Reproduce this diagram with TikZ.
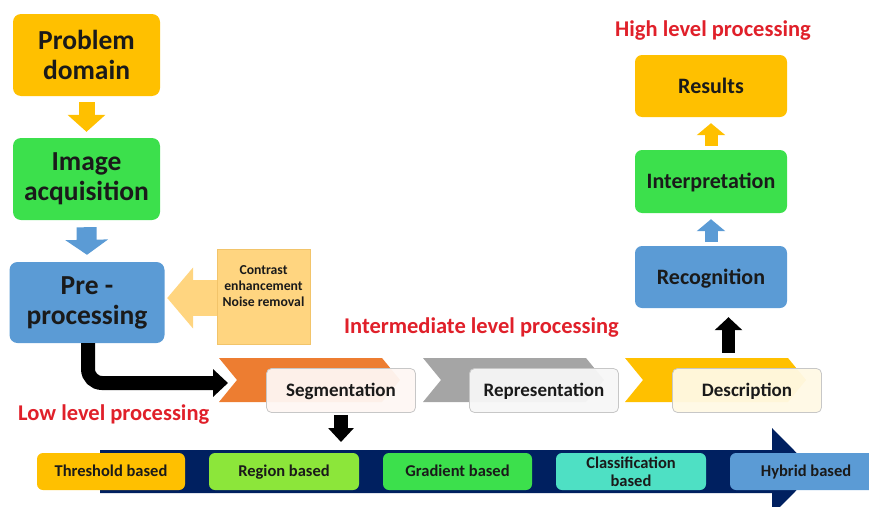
\documentclass[tikz,border=0pt]{standalone}
\usepackage{fontspec}
\setmainfont{Carlito}
\usetikzlibrary{arrows.meta,calc}

\definecolor{cOrange}{HTML}{FFC000}
\definecolor{cGreen}{HTML}{3CE04C}
\definecolor{cBlue}{HTML}{5B9BD5}
\definecolor{cLime}{HTML}{8CE63A}
\definecolor{cTeal}{HTML}{4EE0C4}
\definecolor{cNavy}{HTML}{002060}
\definecolor{cChevOrange}{HTML}{ED7D31}
\definecolor{cChevGray}{HTML}{A5A5A5}
\definecolor{cPeach}{HTML}{FFD580}
\definecolor{cPeachEdge}{HTML}{F2C46A}
\definecolor{cRed}{HTML}{E0202A}
\definecolor{cInk}{HTML}{1A1A1A}

\tikzset{
  stage/.style={rounded corners=8pt, inner sep=0pt, align=center, text=cInk,
    minimum width=147pt, minimum height=82pt,
    font=\bfseries\fontsize{27.5}{30}\selectfont},
  hstage/.style={rounded corners=7pt, inner sep=0pt, text=cInk,
    minimum width=152pt, minimum height=62pt, text height=14.5pt, text depth=0.5pt,
    font=\bfseries\fontsize{22}{26}\selectfont},
  stepbox/.style={rounded corners=5pt, draw=black!22, line width=0.8pt,
    inner sep=0pt, minimum width=149pt, minimum height=44pt, text=cInk,
    text height=12.5pt, text depth=0.5pt,
    font=\bfseries\fontsize{19}{22}\selectfont},
  method/.style={rounded corners=6pt, inner sep=0pt, align=center, text=cInk,
    minimum width=149pt, minimum height=37pt,
    font=\bfseries\fontsize{16.5}{18}\selectfont},
  oneline/.style={text height=10.8pt, text depth=0.4pt},
  level/.style={inner sep=0pt, text=cRed, text height=14.5pt, text depth=0pt,
    font=\bfseries\fontsize{22.5}{26}\selectfont},
  block/.style n args={4}{line width=#2, draw=#1,
    -{Triangle[width=#3,length=#4]}},
}

\begin{document}
\begin{tikzpicture}[x=1pt,y=-1pt]
\useasboundingbox (0,0) rectangle (869,506);

% ---- low level column ----
\node[stage, fill=cOrange] (pd) at (86.5,55) {Problem\\domain};
\node[stage, fill=cGreen] (ia) at (86.5,179) {Image\\acquisition};
\node[stage, fill=cBlue, minimum width=155pt, minimum height=81pt] (pp) at (87,302.5) {Pre -\\processing};

\draw[block={cOrange}{16pt}{37pt}{17pt}] ([yshift=-6pt]pd.south) -- ([yshift=6pt]ia.north);
\draw[block={cBlue}{20pt}{42pt}{15pt}] ([yshift=-7pt]ia.south) -- ([yshift=7pt]pp.north);

% enhancement note and its arrow
\node[fill=cPeach, draw=cPeachEdge, line width=0.6pt, minimum width=93pt, minimum height=95pt, inner sep=0pt] (ce) at (263.5,296.5) {};
\node[align=center, inner sep=0pt, text=cInk, font=\bfseries\fontsize{13.7}{16}\selectfont] (cetext) at ($(ce.center)+(0,-10)$) {Contrast\\enhancement\\Noise removal};
\draw[block={cPeach}{36pt}{60pt}{26pt}] ($(ce.west)+(0,1.5)$) -- ($(ce.west -| pp.east)+(2.5,1.5)$);

% ---- chevrons of the intermediate stages ----
\foreach \lx/\col in {219/cChevOrange, 423/cChevGray, 625/cOrange}{
  \fill[\col] (\lx,358) -- ++(163,0) -- ++(18,22) -- ++(-18,22) -- ++(-163,0) -- ++(18,-22) -- cycle;
}
\coordinate (segin) at (228,383);

\draw[line width=14pt, draw=black, rounded corners=14pt, -{Triangle[width=27pt,length=15pt]}]
  ([xshift=1pt]pp.south) |- (segin);

\node[stepbox, fill=white!94!cChevOrange, fill opacity=0.95, text opacity=1] (seg) at (341,390.5) {Segmentation};
\node[stepbox, fill=black!3, fill opacity=0.95, text opacity=1] (rep) at (544,390.5) {Representation};
\node[stepbox, fill=white!90!cOrange, fill opacity=0.95, text opacity=1] (desc) at (747,390.5) {Description};

% ---- high level column ----
\node[hstage, fill=cOrange] (res) at (711,86) {Results};
\node[hstage, fill=cGreen, minimum height=63pt] (int) at (711,181.5) {Interpretation};
\node[hstage, fill=cBlue] (rec) at (711,277) {Recognition};

\draw[block={cOrange}{13pt}{28pt}{12pt}] ([yshift=4pt]int.north) -- ([yshift=-6pt]res.south);
\draw[block={cBlue}{13pt}{28pt}{12pt}] ([yshift=4pt]rec.north) -- ([yshift=-6pt]int.south);
\draw[block={black}{13pt}{27pt}{13pt}] ($(desc.north)+(-18.5,-15.5)$) -- ($(rec.south)+(17.5,9)$);

% ---- segmentation methods ----
\coordinate (methodsin) at (0,442);
\draw[block={black}{14pt}{25pt}{14pt}] ([yshift=-2pt]seg.south) -- (seg.south |- methodsin);

\begin{scope}
\clip (0,0) rectangle (869,506);
\fill[cNavy] (100,450) -- (772,450) -- (772,428) -- (815,471.5) -- (772,515) -- (772,493) -- (100,493) -- cycle;
\node[method, oneline, fill=cOrange, minimum width=148pt] (thr) at (111,471.5) {Threshold based};
\node[method, oneline, fill=cLime, minimum width=150pt] (reg) at (284,471.5) {Region based};
\node[method, oneline, fill=cGreen] (gra) at (457.5,471.5) {Gradient based};
\node[method, fill=cTeal, minimum width=150pt] (cla) at (631,471.5) {Classification\\based};
\node[method, oneline, fill=cBlue, minimum width=152pt] (hyb) at (806,471.5) {Hybrid based};
\end{scope}

% ---- level captions ----
\node[level, anchor=west] (low) at (18,413) {Low level processing};
\node[level] (mid) at (481.5,326) {Intermediate level processing};
\node[level] (high) at (713,29) {High level processing};

\end{tikzpicture}
\end{document}
